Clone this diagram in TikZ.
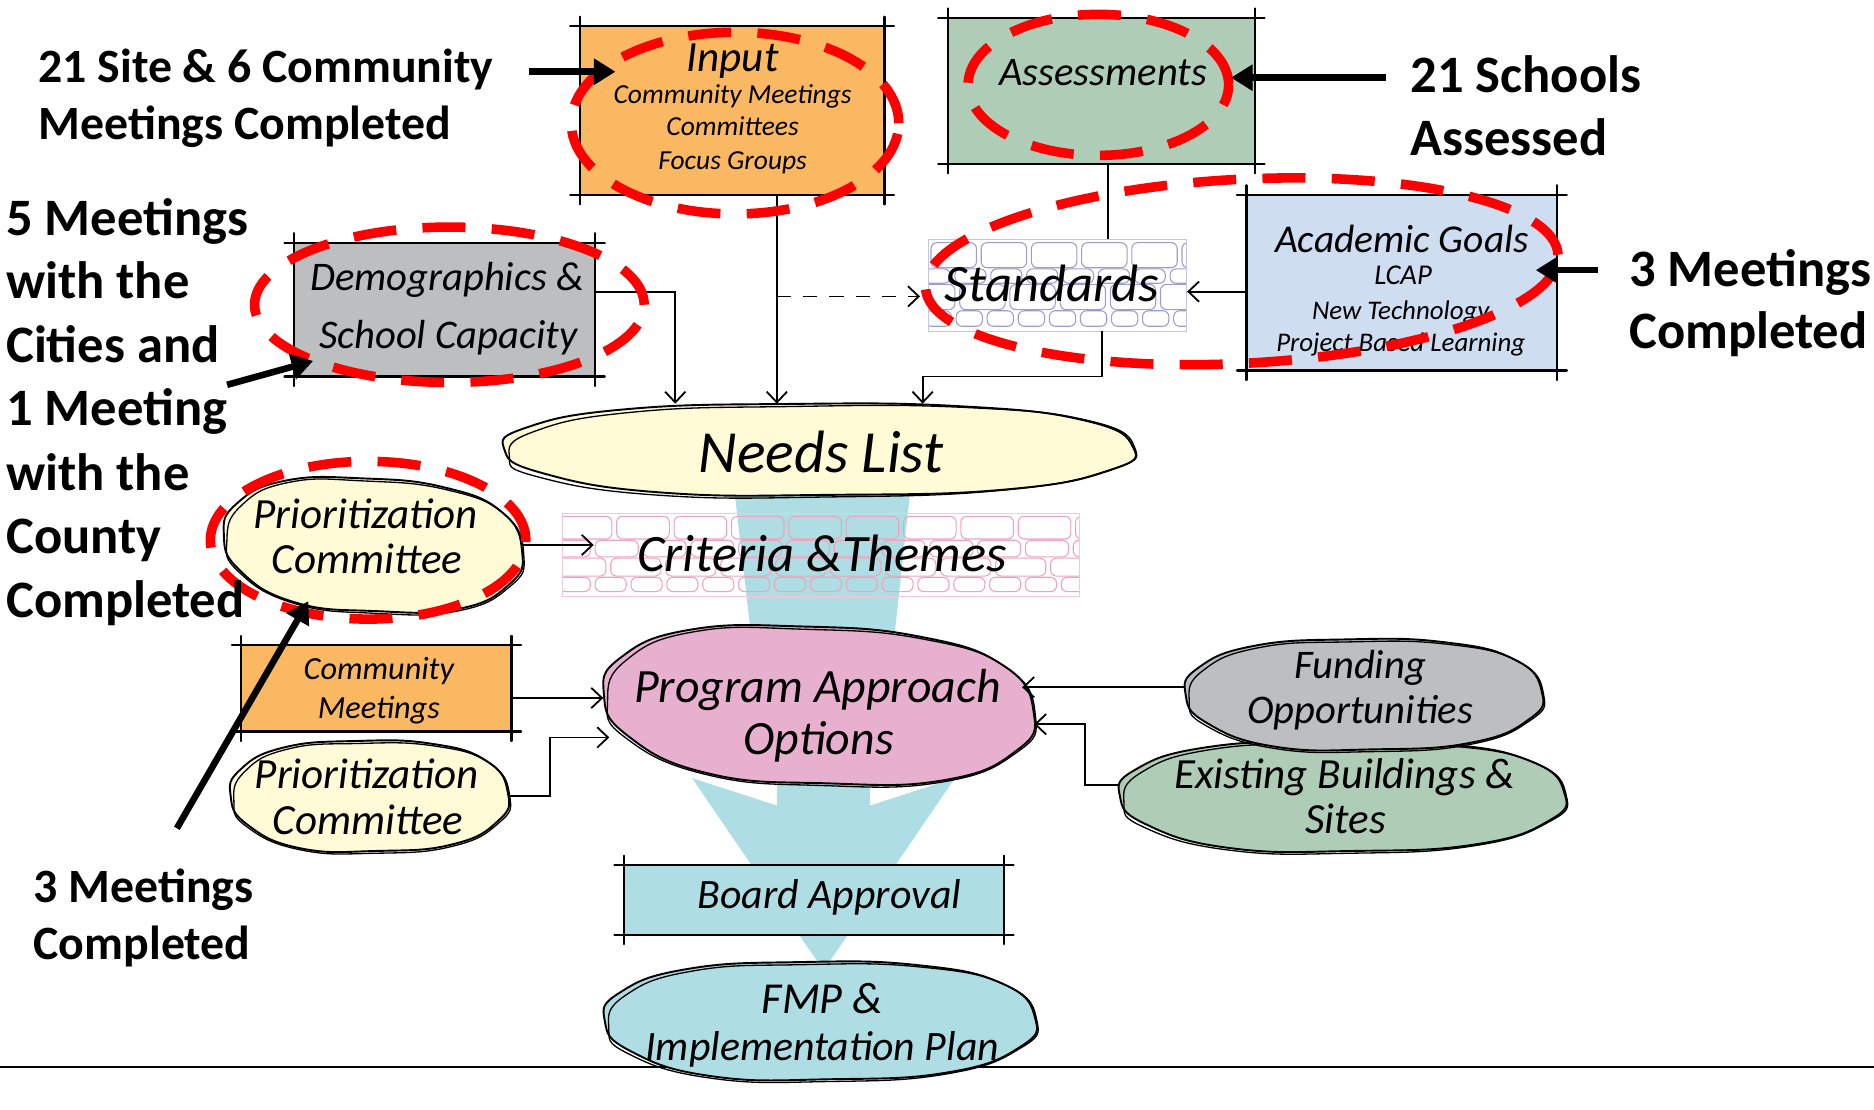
\documentclass[tikz,border=0pt]{standalone}
\usepackage{fontspec}
\setmainfont{Carlito}
\usetikzlibrary{arrows.meta,shapes.geometric,fit}

\definecolor{cOrange}{HTML}{FBB862}
\definecolor{cGreen}{HTML}{AFCDB6}
\definecolor{cGray}{HTML}{BDBEC0}
\definecolor{cBlue}{HTML}{CFDDF1}
\definecolor{cYellow}{HTML}{FFFBD7}
\definecolor{cPink}{HTML}{E7B0CF}
\definecolor{cTeal}{HTML}{AEDEE4}
\definecolor{cRed}{HTML}{FF0000}
\definecolor{cLav}{HTML}{9C9CD4}
\definecolor{cRose}{HTML}{EEA3BC}

\newcommand\hwsize[1]{\fontsize{#1}{#1}\selectfont}

\tikzset{
  skline/.style={line width=1.8pt, line cap=round},
  conn/.style={line width=1.5pt, -{Straight Barb[length=9pt,width=17pt,line width=1.5pt]}},
  plainconn/.style={line width=1.5pt},
  bigarrow/.style={line width=5.5pt, -{Triangle[length=18pt,width=21pt]}},
  reddash/.style={draw=cRed, line width=8pt, dash pattern=on 36pt off 22pt, ellipse, inner sep=0pt},
  hw/.style={inner sep=0pt, anchor=base, font=\itshape\hwsize{#1}},
  lab/.style={inner sep=0pt, anchor=base west, font=\bfseries\hwsize{#1}},
  blobline/.style={line width=1.6pt},
  blobline2/.style={line width=1.1pt},
}

% sketchy box: name, fill, x1, y1, x2, y2
\newcommand\skbox[6]{%
  \node[fill=#2, inner sep=0pt, outer sep=0pt, fit={(#3,#4)(#5,#6)}] (#1) {};
  \draw[skline] ([xshift=-8pt]#1.north west) -- ([xshift=8pt]#1.north east);
  \draw[skline] ([xshift=-8pt]#1.south west) -- ([xshift=8pt]#1.south east);
  \draw[skline] ([yshift=8pt]#1.north west) -- ([yshift=-8pt]#1.south west);
  \draw[skline] ([yshift=8pt]#1.north east) -- ([yshift=-8pt]#1.south east);
}

% hand drawn blob: name, cx, cy, rx, ry, fill, rotation
\newcommand\blob[7]{%
  \node[ellipse, inner sep=0pt, minimum width={2*#4pt}, minimum height={2*#5pt}] (#1) at (#2,#3) {};
  \filldraw[fill=#6, blobline, shift={(#2,#3)}, rotate=#7, xscale=#4, yscale=#5]
    plot[smooth cycle, tension=0.8] coordinates {(-1,0) (-0.93,-0.48) (-0.62,-0.88) (-0.1,-1) (0.45,-0.95) (0.85,-0.63) (1,-0.05) (0.93,0.45) (0.6,0.88) (0.05,1) (-0.5,0.95) (-0.88,0.52)};
  \draw[blobline2, shift={(#2+1.5,#3+1.5)}, rotate=#7+0.6, xscale=#4, yscale=#5]
    plot[smooth cycle, tension=0.8] coordinates {(-0.99,0.04) (-0.91,-0.5) (-0.6,-0.9) (-0.1,-0.99) (0.46,-0.93) (0.86,-0.6) (1,0) (0.92,0.48) (0.58,0.9) (0.02,1.01) (-0.52,0.93) (-0.9,0.5)};
}

% stone wall: x1, y1, x2, y2, colour, rows (top/height/width/offset)
\newcommand\stones[6]{%
  \begin{scope}
    \clip (#1,#2) rectangle (#3,#4);
    \foreach \yy/\hh/\ww/\off in {#6} {
      \foreach \i in {0,...,16} {
        \draw[#5, line width=0.9pt, rounded corners=5pt]
          ({#1+\off+\i*\ww+2},{\yy}) rectangle ++({\ww-4},{\hh});
      }
    }
  \end{scope}
  \draw[#5!60, line width=0.8pt] (#1,#2) rectangle (#3,#4);
}

\begin{document}
\begin{tikzpicture}[x=1pt,y=-1pt]
\useasboundingbox (0,0) rectangle (1568,928.7);

% bottom rule
\draw[line width=1.5pt] (0,893) -- (1568,893);

% teal flow shapes
\fill[cTeal] (613,398) -- (763,398) -- (747,545) -- (630,545) -- cycle;
\fill[cTeal] (650,640) -- (650,674) -- (579,651) -- (689,812) -- (799,651) -- (728,674) -- (728,640) -- cycle;

% boxes
\skbox{input}{cOrange}{485}{22}{740}{163}
\skbox{assess}{cGreen}{793}{15}{1050}{137}
\skbox{acad}{cBlue}{1043}{163}{1303}{310}
\skbox{demo}{cGray}{246}{203}{498}{315}
\skbox{cm}{cOrange}{202}{540}{428}{612}
\skbox{board}{cTeal}{522}{724}{840}{782}

% stone walls
\node[inner sep=0pt, fit={(777,200)(993,277)}] (standards) {};
\stones{777}{200}{993}{277}{cLav}{203/21/42/0, 225/12/30/-10, 238/21/42/-18, 260/13/26/-5}
\node[inner sep=0pt, fit={(471,430)(903,499)}] (criteria) {};
\stones{471}{430}{903}{499}{cRose}{432/19/48/-5, 452/14/40/-15, 467/15/46/-8, 483/12/30/-5}

% blobs
\blob{needs}{685}{376}{263}{38}{cYellow}{0}
\blob{prio1}{312}{456}{125}{55}{cYellow}{-4}
\blob{pao}{685}{590}{180}{65}{cPink}{-3}
\blob{prio2}{309}{666}{116}{46}{cYellow}{0}
\blob{exist}{1123}{666}{186}{46}{cGreen}{0}
\blob{fund}{1141}{581}{149}{46}{cGray}{0}
\blob{fmp}{686}{854}{180}{49}{cTeal}{0}

% texts
\node[hw=36] (tIn1) at (613,60) {Input};
\node[hw=23] (tIn2) at (613,86.5) {Community Meetings};
\node[hw=23] (tIn3) at (613,113) {Committees};
\node[hw=23] (tIn4) at (613,142) {Focus Groups};
\node[hw=34] (tAs) at (923,71.5) {Assessments};
\node[hw=34] (tDe1) at (374,243) {Demographics \&};
\node[hw=34] (tDe2) at (375,292) {School Capacity};
\node[hw=44] (tSt) at (880,252) {Standards};
\node[hw=33] (tAc1) at (1173,211) {Academic Goals};
\node[hw=24] (tAc2) at (1174,238) {LCAP};
\node[hw=22.5] (tAc3) at (1172,267) {New Technology};
\node[hw=22.5] (tAc4) at (1172,294) {Project Based Learning};
\node[hw=50] (tNe) at (687,395) {Needs List};
\node[hw=36] (tP1a) at (306,442) {Prioritization};
\node[hw=36] (tP1b) at (307,480) {Committee};
\node[hw=44] (tCr) at (688,478) {Criteria \&Themes};
\node[hw=27] (tCm1) at (317,568.5) {Community};
\node[hw=27] (tCm2) at (317,601.5) {Meetings};
\node[hw=40] (tPa1) at (684,588) {Program Approach};
\node[hw=40] (tPa2) at (685,631) {Options};
\node[hw=36] (tP2a) at (307,660) {Prioritization};
\node[hw=36] (tP2b) at (308,698) {Committee};
\node[hw=34] (tFu1) at (1138,567.5) {Funding};
\node[hw=34] (tFu2) at (1138,605.5) {Opportunities};
\node[hw=36] (tEx1) at (1125,660) {Existing Buildings \&};
\node[hw=36] (tEx2) at (1126,697) {Sites};
\node[hw=35] (tBo) at (694,760) {Board Approval};
\node[hw=37] (tFm1) at (688,848) {FMP \&};
\node[hw=35] (tFm2) at (688,887) {Implementation Plan};

% connector helper coordinates
\coordinate (xin) at (650,0);
\coordinate (dst) at (650,248);
\coordinate (xa) at (927,0);
\coordinate (ya) at (0,244);
\coordinate (xs) at (922,0);
\coordinate (jn) at (772,315);
\coordinate (yd) at (0,244);
\coordinate (xd) at (565,0);
\coordinate (ycm) at (0,584);
\coordinate (j2) at (460,617);
\coordinate (yf) at (0,575);
\coordinate (ye) at (0,657);
\coordinate (j3) at (908,606);

% connectors
\draw[conn] (input.south -| xin) -- (needs.north -| xin);
\draw[conn, dash pattern=on 12pt off 10pt, shorten >=7pt] (dst) -- (standards.west |- dst);
\draw[plainconn] (assess.south -| xa) -- (standards.north -| xa);
\draw[conn] (acad.west |- ya) -- (standards.east |- ya);
\draw[conn] (standards.south -| xs) |- (jn) -- (needs.north -| jn);
\draw[conn] (demo.east |- yd) -| (needs.north -| xd);
\draw[conn] (prio1.east) -- ([xshift=26pt]criteria.west |- prio1.east);
\draw[conn] (cm.east |- ycm) -- (pao.west |- ycm);
\draw[conn] (prio2.east) -| (j2) -- ([xshift=5pt]pao.west |- j2);
\draw[conn] (fund.west |- yf) -- ([xshift=-10pt]pao.east |- yf);
\draw[conn] (exist.west |- ye) -| (j3) -- (pao.east |- j3);

% red dashed highlights
\node[reddash, minimum width=274pt, minimum height=152pt] (rIn) at (615,103) {};
\node[reddash, minimum width=218pt, minimum height=118pt] (rAs) at (919,71) {};
\node[reddash, minimum width=530pt, minimum height=154pt, rotate=3] (rSt) at (1039,227) {};
\node[reddash, minimum width=326pt, minimum height=130pt] (rDe) at (376,255) {};
\node[reddash, minimum width=264pt, minimum height=132pt] (rPr) at (308,452) {};

% annotation labels
\node[lab=40] (l1a) at (32,69) {21 Site \& 6 Community};
\node[lab=40] (l1b) at (32,117) {Meetings Completed};
\node[lab=44] (l2a) at (5,197) {5 Meetings};
\node[lab=44] (l2b) at (5,250) {with the};
\node[lab=44] (l2c) at (5,303) {Cities and};
\node[lab=44] (l2d) at (5,356) {1 Meeting};
\node[lab=44] (l2e) at (5,410) {with the};
\node[lab=44] (l2f) at (5,463) {County};
\node[lab=44] (l2g) at (5,517) {Completed};
\node[lab=44] (l3a) at (1180,77) {21 Schools};
\node[lab=44] (l3b) at (1180,130) {Assessed};
\node[lab=44] (l4a) at (1363,240) {3 Meetings};
\node[lab=44] (l4b) at (1363,292) {Completed};
\node[lab=40] (l5a) at (28,755) {3 Meetings};
\node[lab=40] (l5b) at (28,803) {Completed};

% annotation arrows
\coordinate (a1s) at (443,60);  \coordinate (a1e) at (515,60);
\coordinate (a2s) at (1160,65); \coordinate (a2e) at (1030,65);
\coordinate (a3s) at (1337,226); \coordinate (a3e) at (1285,226);
\coordinate (a4s) at (190,322); \coordinate (a4e) at (262,302);
\coordinate (a5s) at (148,693); \coordinate (a5e) at (258,503);
\draw[bigarrow] (a1s) -- (a1e);
\draw[bigarrow] (a2s) -- (a2e);
\draw[bigarrow] (a3s) -- (a3e);
\draw[bigarrow] (a4s) -- (a4e);
\draw[bigarrow] (a5s) -- (a5e);
\end{tikzpicture}
\end{document}
